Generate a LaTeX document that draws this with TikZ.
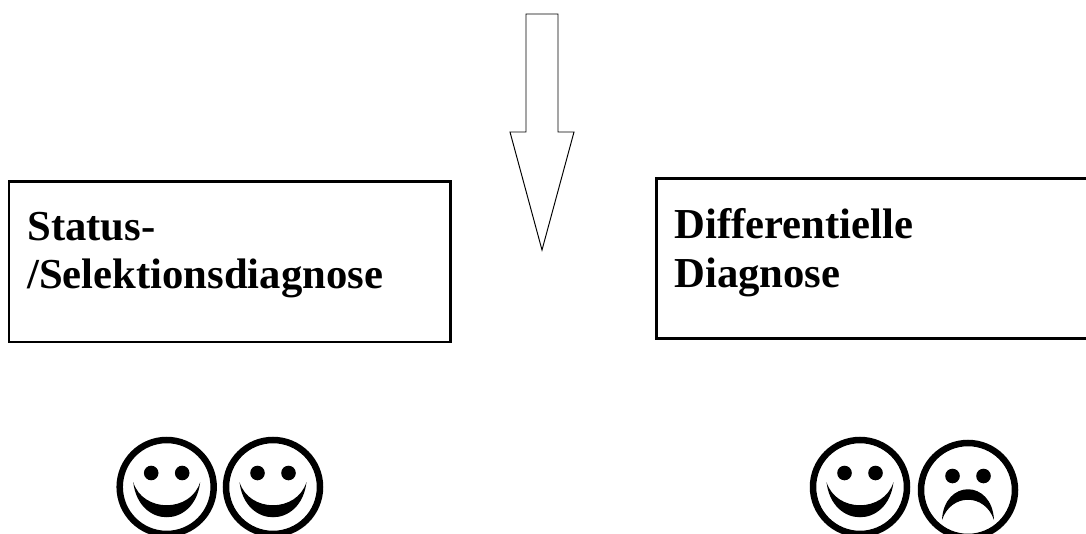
\documentclass[tikz,border=0pt]{standalone}
\usepackage{fontspec}
\setmainfont{Liberation Serif}
\usetikzlibrary{calc}
\tikzset{
	diagnoseBox/.style={draw, line width=1.5pt},
	diagnoseText/.style={anchor=north west, inner sep=0pt, align=left, font=\fontsize{24.3}{27.8}\selectfont\bfseries},
	faceRing/.style={line width=3.7pt},
}
\newcommand{\drawFaceBase}[1]{
	\draw[faceRing] (#1) circle (47);
	\fill ($(#1)+(-15.5,-14)$) circle (7.3);
	\fill ($(#1)+(15.5,-14)$) circle (7.3);
}
\newcommand{\drawHappyFace}[1]{
	\drawFaceBase{#1}
	\fill ($(#1)+(-33.5,-5)$) .. controls ($(#1)+(-28,42)$) and ($(#1)+(28,42)$) .. ($(#1)+(33.5,-5)$)
		.. controls ($(#1)+(24,26)$) and ($(#1)+(-24,26)$) .. cycle;
}
\newcommand{\drawSadFace}[1]{
	\drawFaceBase{#1}
	\fill ($(#1)+(-26,30)$) .. controls ($(#1)+(-24,-11)$) and ($(#1)+(24,-11)$) .. ($(#1)+(26,30)$)
		.. controls ($(#1)+(17,3)$) and ($(#1)+(-17,3)$) .. cycle;
}
\begin{document}
\begin{tikzpicture}[x=0.02cm, y=-0.02cm]
	\useasboundingbox (0,0) rectangle (1086,534);
	\clip (0,0) rectangle (1086,534);

	\coordinate (B1_L) at (9,181.5);
	\coordinate (B1_R) at (450.5,342);
	\coordinate (B2_L) at (656.5,178.5);
	\coordinate (B2_R) at (1092,338.5);

	\draw[diagnoseBox] (B1_L) rectangle (B1_R);
	\draw[diagnoseBox] (B2_L) rectangle (B2_R);
	\node[diagnoseText] (statusText) at (27,211.5) {Status-\\/Selektionsdiagnose};
	\node[diagnoseText] (diffText) at (674,208) {Differentielle\\Diagnose};

	\draw[line width=0.55pt] (526,14) -- (558,14) -- (558,132) -- (574,132) -- (542,250)
		-- (510,132) -- (526,132) -- cycle;

	\drawHappyFace{166.7,487}
	\drawHappyFace{273,487}
	\drawHappyFace{860,487}
	\drawSadFace{968,490}
\end{tikzpicture}
\end{document}
